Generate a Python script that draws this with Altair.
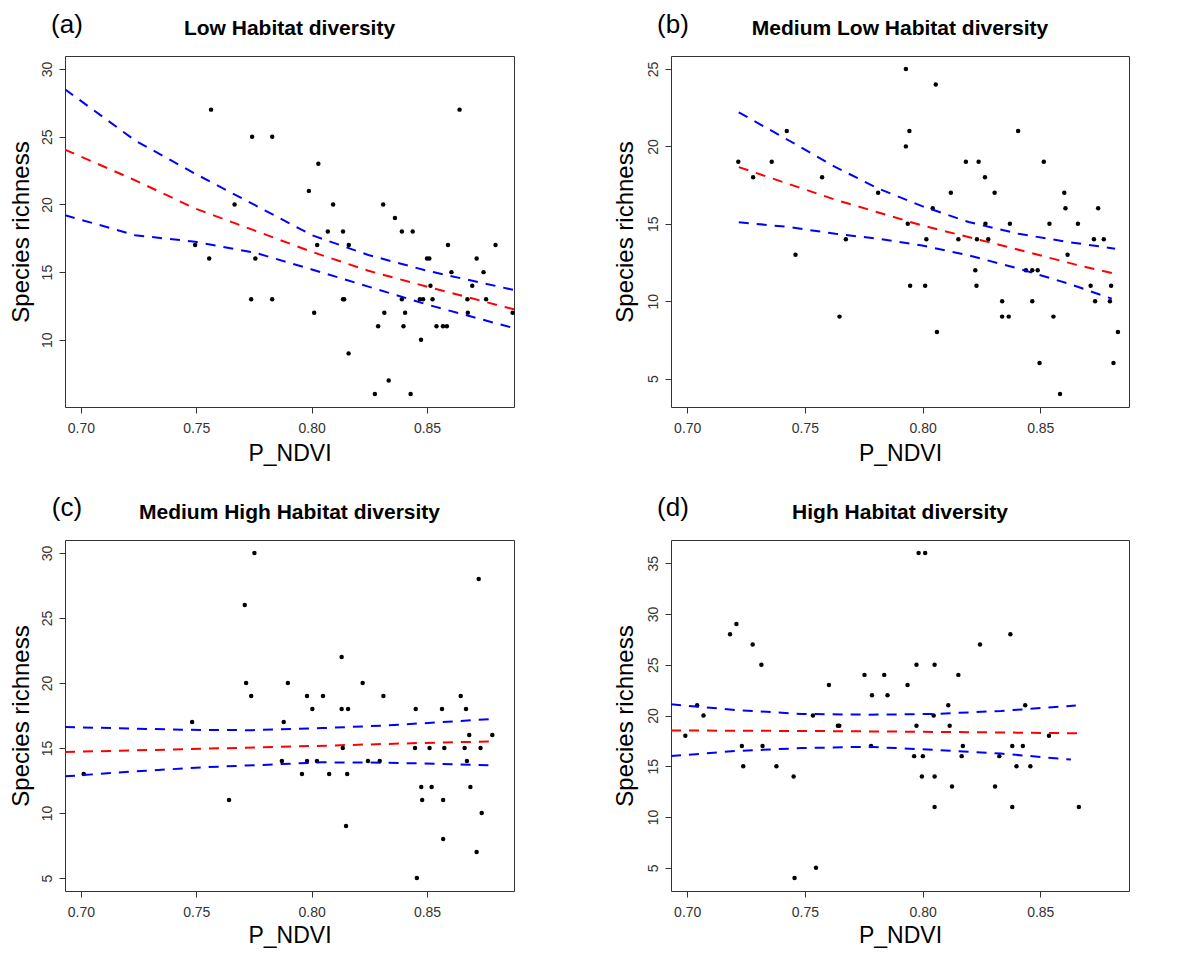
import altair as alt
import pandas as pd

FONT = "Liberation Sans"
XDOM = [0.6931, 0.8877]
XTICKS = [0.70, 0.75, 0.80, 0.85]

# ---------------- Panel (a) Low Habitat diversity ----------------
a_x = [0.7495, 0.7556, 0.7564, 0.7666, 0.7738, 0.7742, 0.7756, 0.7829, 0.7829, 0.7988,
       0.8011, 0.8024, 0.8029, 0.8070, 0.8093, 0.8136, 0.8136, 0.8141, 0.8161, 0.8160,
       0.8274, 0.8288, 0.8310, 0.8315, 0.8334, 0.8361, 0.8391, 0.8391, 0.8398, 0.8405,
       0.8429, 0.8438, 0.8469, 0.8483, 0.8474, 0.8500, 0.8510, 0.8515, 0.8524, 0.8541,
       0.8569, 0.8586, 0.8591, 0.8606, 0.8641, 0.8675, 0.8677, 0.8696, 0.8715, 0.8745,
       0.8756, 0.8797, 0.8871]
a_y = [17, 16, 27, 20, 13, 25, 16, 25, 13, 21,
       12, 17, 23, 18, 20, 18, 13, 13, 17, 9,
       6, 11, 20, 12, 7, 19, 18, 13, 11, 12,
       6, 18, 13, 13, 10, 16, 16, 14, 13, 11,
       11, 11, 17, 15, 27, 13, 12, 14, 16, 15,
       13, 17, 12]
a_fit_x = [0.6931, 0.7235, 0.7495, 0.8001, 0.8246, 0.8506, 0.8877]
a_fit_y = [24.05, 21.78, 19.70, 16.50, 15.10, 13.90, 12.25]
a_hi_x = [0.6931, 0.7235, 0.7495, 0.7755, 0.8001, 0.8246, 0.8506, 0.8877]
a_hi_y = [28.50, 24.72, 22.27, 19.94, 17.73, 16.26, 15.08, 13.68]
a_lo_x = [0.6931, 0.7235, 0.7495, 0.7755, 0.8001, 0.8246, 0.8506, 0.8877]
a_lo_y = [19.20, 17.73, 17.24, 16.43, 15.20, 13.93, 12.58, 10.86]

# ---------------- Panel (b) Medium Low Habitat diversity ----------------
b_x = [0.7217, 0.7280, 0.7359, 0.7423, 0.7460, 0.7573, 0.7647, 0.7674, 0.7811, 0.7929,
       0.7929, 0.7944, 0.7937, 0.7947, 0.8011, 0.8016, 0.8043, 0.8056, 0.8061, 0.8120,
       0.8152, 0.8184, 0.8224, 0.8229, 0.8231, 0.8238, 0.8265, 0.8267, 0.8279, 0.8306,
       0.8338, 0.8338, 0.8366, 0.8371, 0.8406, 0.8439, 0.8466, 0.8466, 0.8489, 0.8497,
       0.8515, 0.8539, 0.8556, 0.8584, 0.8602, 0.8607, 0.8616, 0.8660, 0.8714, 0.8728,
       0.8733, 0.8746, 0.8770, 0.8796, 0.8801, 0.8811, 0.8830]
b_y = [19, 18, 19, 21, 13, 18, 9, 14, 17, 25,
       20, 21, 15, 11, 11, 14, 16, 24, 8, 17,
       14, 19, 12, 11, 14, 19, 18, 15, 14, 17,
       10, 9, 9, 15, 21, 12, 12, 10, 12, 6,
       19, 15, 9, 4, 17, 16, 13, 15, 11, 14,
       10, 16, 14, 10, 11, 6, 8]
b_fit_x = [0.7219, 0.7630, 0.7998, 0.8337, 0.8663, 0.8818]
b_fit_y = [18.66, 16.55, 14.89, 13.60, 12.31, 11.77]
b_hi_x = [0.7219, 0.7432, 0.7630, 0.7814, 0.7998, 0.8196, 0.8408, 0.8620, 0.8818]
b_hi_y = [22.20, 20.38, 18.66, 17.26, 16.14, 15.11, 14.35, 13.82, 13.39]
b_lo_x = [0.7219, 0.7432, 0.7630, 0.7814, 0.7998, 0.8196, 0.8408, 0.8620, 0.8804]
b_lo_y = [15.10, 14.79, 14.35, 14.03, 13.60, 12.96, 12.10, 11.13, 10.16]

# ---------------- Panel (c) Medium High Habitat diversity ----------------
c_x = [0.7012, 0.7482, 0.7642, 0.7710, 0.7716, 0.7738, 0.7752, 0.7871, 0.7879, 0.7897,
       0.7958, 0.7980, 0.7980, 0.8003, 0.8023, 0.8049, 0.8076, 0.8130, 0.8130, 0.8135,
       0.8149, 0.8154, 0.8158, 0.8221, 0.8244, 0.8295, 0.8311, 0.8448, 0.8451, 0.8456,
       0.8475, 0.8479, 0.8511, 0.8520, 0.8565, 0.8570, 0.8570, 0.8575, 0.8646, 0.8663,
       0.8669, 0.8673, 0.8683, 0.8688, 0.8715, 0.8724, 0.8732, 0.8737, 0.8783]
c_y = [13, 17, 11, 26, 20, 19, 30, 14, 17, 20,
       13, 19, 14, 18, 14, 19, 13, 22, 18, 15,
       9, 13, 18, 20, 14, 14, 19, 15, 18, 5,
       12, 11, 15, 12, 18, 11, 8, 15, 19, 15,
       18, 14, 16, 12, 7, 28, 15, 10, 16]
c_fit_x = [0.6931, 0.7524, 0.8001, 0.8463, 0.8787]
c_fit_y = [14.69, 14.94, 15.15, 15.38, 15.51]
c_hi_x = [0.6931, 0.7466, 0.7741, 0.8044, 0.8318, 0.8535, 0.8773]
c_hi_y = [16.61, 16.40, 16.37, 16.53, 16.73, 16.96, 17.22]
c_lo_x = [0.6931, 0.7235, 0.7524, 0.7813, 0.8044, 0.8318, 0.8535, 0.8766]
c_lo_y = [12.82, 13.20, 13.51, 13.72, 13.90, 13.87, 13.79, 13.67]

# ---------------- Panel (d) High Habitat diversity ----------------
d_x = [0.6992, 0.7042, 0.7069, 0.7182, 0.7209, 0.7232, 0.7238, 0.7278, 0.7315, 0.7320,
       0.7379, 0.7452, 0.7456, 0.7534, 0.7547, 0.7602, 0.7640, 0.7646, 0.7753, 0.7781,
       0.7785, 0.7837, 0.7851, 0.7936, 0.7964, 0.7974, 0.7974, 0.7983, 0.8011, 0.7997,
       0.8001, 0.8047, 0.8051, 0.8051, 0.8051, 0.8109, 0.8115, 0.8125, 0.8152, 0.8166,
       0.8171, 0.8244, 0.8308, 0.8326, 0.8373, 0.8381, 0.8381, 0.8399, 0.8426, 0.8436,
       0.8458, 0.8537, 0.8664]
d_y = [18, 21, 20, 28, 29, 17, 15, 27, 25, 17,
       15, 14, 4, 20, 5, 23, 19, 19, 24, 17,
       22, 24, 22, 23, 16, 25, 19, 36, 36, 14,
       16, 20, 25, 14, 11, 21, 19, 13, 24, 16,
       17, 27, 13, 16, 28, 17, 11, 15, 17, 21,
       15, 18, 11]
d_fit_x = [0.6931, 0.7626, 0.8192, 0.8666]
d_fit_y = [18.53, 18.46, 18.36, 18.25]
d_hi_x = [0.6931, 0.7202, 0.7485, 0.7768, 0.8050, 0.8333, 0.8651]
d_hi_y = [21.10, 20.55, 20.15, 20.08, 20.15, 20.45, 20.98]
d_lo_x = [0.6931, 0.7202, 0.7485, 0.7768, 0.8050, 0.8333, 0.8630]
d_lo_y = [16.00, 16.50, 16.79, 16.92, 16.62, 16.25, 15.66]

TITLES = ["Low Habitat diversity", "Medium Low Habitat diversity",
          "Medium High Habitat diversity", "High Habitat diversity"]
TAGS = ["(a)", "(b)", "(c)", "(d)"]

W_LEFT = 449
W_RIGHT = 458
H = 351


def make_panel(px, py, fx, fy, hx, hy, lx, ly, ydom, yticks, title, tag,
               w, tag_y, ytitle_x, xtitle_y, anchor=False):
    pts = pd.DataFrame({"x": px, "y": py})
    fit = pd.DataFrame({"x": fx, "y": fy})
    band = pd.DataFrame({"x": hx + lx, "y": hy + ly,
                         "band": ["upper"] * len(hx) + ["lower"] * len(lx)})
    xenc = alt.X("x:Q",
                 scale=alt.Scale(domain=XDOM, nice=False, zero=False),
                 axis=alt.Axis(values=XTICKS, format=".2f", title="P_NDVI",
                               titleFontSize=23, titleX=w / 2, titleY=xtitle_y,
                               titleAlign="center", titleBaseline="alphabetic",
                               labelPadding=8, labelFlush=False))
    yenc = alt.Y("y:Q",
                 scale=alt.Scale(domain=ydom, nice=False, zero=False),
                 axis=alt.Axis(values=yticks, format="d", title="Species richness",
                               titleFontSize=24, titleX=ytitle_x, titleY=H / 2,
                               titleAngle=270, titleAlign="center",
                               titleBaseline="middle",
                               labelAngle=270, labelAlign="center",
                               labelBaseline="alphabetic", labelPadding=8,
                               labelFlush=False))
    one = pd.DataFrame({"t": [title]})
    points = alt.Chart(pts).mark_circle(color="black", size=20, opacity=1).encode(x=xenc, y=yenc)
    blue = alt.Chart(band).mark_line(color="#0000FF", strokeWidth=2, strokeDash=[10, 8],
                                     clip=True).encode(x="x:Q", y="y:Q", detail="band:N")
    red = alt.Chart(fit).mark_line(color="#FF0000", strokeWidth=2, strokeDash=[10, 8],
                                   clip=True).encode(x="x:Q", y="y:Q")
    ttl = alt.Chart(one).mark_text(
        font=FONT, fontSize=21, fontWeight="bold", color="black",
        align="center", baseline="alphabetic").encode(
        x=alt.value(w / 2), y=alt.value(-21), text="t:N")
    lab = alt.Chart(pd.DataFrame({"t": [tag]})).mark_text(
        font=FONT, fontSize=26, color="black",
        align="center", baseline="middle").encode(
        x=alt.value(2), y=alt.value(tag_y), text="t:N")
    layers = [points, blue, red, ttl, lab]
    if anchor:
        # invisible anchor fixing the chart's top-left extent
        anc = alt.Chart(one).mark_rule(strokeOpacity=0, strokeWidth=1).encode(
            x=alt.value(-56), x2=alt.value(-56), y=alt.value(-47), y2=alt.value(-47))
        layers.append(anc)
    return alt.layer(*layers).properties(width=w, height=H)


pa = make_panel(a_x, a_y, a_fit_x, a_fit_y, a_hi_x, a_hi_y, a_lo_x, a_lo_y,
                [5.04, 30.96], [10, 15, 20, 25, 30], TITLES[0], TAGS[0],
                W_LEFT, -31, -44, 53, anchor=True)
pb = make_panel(b_x, b_y, b_fit_x, b_fit_y, b_hi_x, b_hi_y, b_lo_x, b_lo_y,
                [3.16, 25.84], [5, 10, 15, 20, 25], TITLES[1], TAGS[1],
                W_RIGHT, -31, -46, 53)
pc = make_panel(c_x, c_y, c_fit_x, c_fit_y, c_hi_x, c_hi_y, c_lo_x, c_lo_y,
                [4.0, 31.0], [5, 10, 15, 20, 25, 30], TITLES[2], TAGS[2],
                W_LEFT, -32, -44, 51)
pd_ = make_panel(d_x, d_y, d_fit_x, d_fit_y, d_hi_x, d_hi_y, d_lo_x, d_lo_y,
                 [2.72, 37.28], [5, 10, 15, 20, 25, 30, 35], TITLES[3], TAGS[3],
                 W_RIGHT, -32, -46, 51)

chart = alt.concat(pa, pb, pc, pd_, columns=2,
                   spacing={"row": 133, "column": 157}, bounds="flush").properties(
    padding={"left": 0, "top": 0, "right": 0, "bottom": 0}
).configure(font=FONT).configure_view(
    stroke="#333333", strokeWidth=1
).configure_axis(
    grid=False, domain=False, ticks=True, tickSize=6, tickColor="#333333",
    tickWidth=1, labelFont=FONT, labelFontSize=14, labelColor="#333333",
    titleFont=FONT, titleFontWeight="normal", titleColor="black"
)

chart.save("out.html", embed_options={"renderer": "svg", "actions": False})
